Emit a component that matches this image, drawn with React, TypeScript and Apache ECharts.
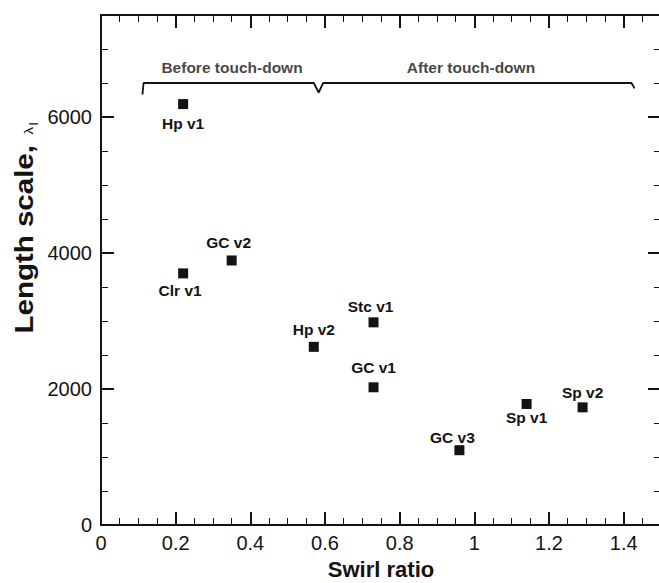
import React, { useEffect, useRef } from "react";
import * as echarts from "echarts";

// ---- data ----
const pointNames = ["Hp v1", "Clr v1", "GC v2", "Hp v2", "Stc v1", "GC v1", "GC v3", "Sp v1", "Sp v2"];
const swirlRatio = [0.22, 0.22, 0.35, 0.57, 0.73, 0.73, 0.96, 1.14, 1.29];
const lengthScale = [6190, 3700, 3890, 2620, 2980, 2025, 1100, 1780, 1730];

// label placement (dx, dy in px relative to marker)
const labelOffsets: [number, number][] = [
  [0, 19], [-3, 17], [-3, -18], [0, -17], [-3, -16], [0, -19.5], [-7, -12.5], [0, 14], [0, -14.5],
];

// brace annotation (data coordinates)
const braceX = [0.111, 0.114, 0.57, 0.583, 0.595, 1.421, 1.429];
const braceY = [6330, 6500, 6500, 6360, 6500, 6500, 6420];

const regionNames = ["Before touch-down", "After touch-down"];
const regionX = [0.351, 0.991];
const regionY = [6735, 6735];

const xTicks = { min: 0, max: 1.5, major: 0.2, minor: 0.05 };
const yTicks = { min: 0, max: 7500, major: 2000, minor: 500 };

const INK = "#151213";
const FONT = "'Liberation Sans', Arial, Helvetica, sans-serif";

export default function App() {
  const ref = useRef<HTMLDivElement>(null);
  useEffect(() => {
    if (!ref.current) return;
    const chart = echarts.init(ref.current, undefined, { renderer: "svg" });

    const baseAxis = (pos: string, interval: number, major: boolean, labels: boolean, dim: "x" | "y") => {
      const t = dim === "x" ? xTicks : yTicks;
      return {
        type: "value",
        position: pos,
        min: t.min,
        max: t.max,
        interval,
        axisLine: { show: major, onZero: false, lineStyle: { color: INK, width: 2 } },
        axisTick: {
          show: true,
          inside: true,
          length: major ? 13 : 7,
          lineStyle: { color: INK, width: major ? 2 : 1 },
        },
        axisLabel: {
          show: labels,
          showMaxLabel: false,
          margin: dim === "x" ? 8 : 9,
          color: INK,
          fontSize: 20,
          fontFamily: FONT,
          formatter: (v: number) => String(v),
        },
        splitLine: { show: false },
      } as any;
    };

    const xMain = baseAxis("bottom", xTicks.major, true, true, "x");
    xMain.name = "Swirl ratio";
    xMain.nameLocation = "middle";
    xMain.nameGap = 33;
    xMain.nameTextStyle = { fontSize: 22, fontWeight: "bold", color: INK, fontFamily: FONT, lineHeight: 22 };

    const labelStyle = {
      show: true,
      position: "inside",
      formatter: "{b}",
      fontSize: 15.5,
      fontWeight: "bold",
      fontFamily: FONT,
      color: INK,
    };

    const option: any = {
      animation: false,
      backgroundColor: "#ffffff",
      grid: { left: 101, top: 15, width: 560, height: 510, containLabel: false, outerBoundsMode: "none" },
      xAxis: [
        xMain,
        baseAxis("bottom", xTicks.minor, false, false, "x"),
        baseAxis("top", xTicks.major, true, false, "x"),
        baseAxis("top", xTicks.minor, false, false, "x"),
      ],
      yAxis: [
        baseAxis("left", yTicks.major, true, true, "y"),
        baseAxis("left", yTicks.minor, false, false, "y"),
        baseAxis("right", yTicks.major, true, false, "y"),
        baseAxis("right", yTicks.minor, false, false, "y"),
      ],
      graphic: [
        {
          type: "text",
          x: 23,
          y: 228,
          rotation: Math.PI / 2,
          scaleX: 1.18,
          style: {
            text: "{a|Length scale, }{b|λ}{c|l}",
            textAlign: "center",
            textVerticalAlign: "middle",
            fill: INK,
            rich: {
              a: { fontSize: 25, fontWeight: "bold", fontFamily: FONT, fill: INK, lineHeight: 28, verticalAlign: "bottom" },
              b: { fontSize: 13, fontFamily: FONT, fill: INK, lineHeight: 28, verticalAlign: "bottom", padding: [0, 1, 2, 2] },
              c: { fontSize: 12, fontFamily: FONT, fill: INK, lineHeight: 22, verticalAlign: "bottom", padding: [0, 0, -3, 0] },
            },
          },
        },
      ],
      series: [
        {
          type: "line",
          xAxisIndex: 0,
          yAxisIndex: 0,
          data: braceX.map((x, i) => [x, braceY[i]]),
          symbol: "none",
          silent: true,
          lineStyle: { color: INK, width: 1.8 },
          z: 1,
        },
        {
          type: "scatter",
          xAxisIndex: 0,
          yAxisIndex: 0,
          data: regionNames.map((n, i) => ({ name: n, value: [regionX[i], regionY[i]] })),
          symbolSize: 1,
          itemStyle: { color: "rgba(0,0,0,0)" },
          silent: true,
          label: labelStyle,
        },
        {
          type: "scatter",
          xAxisIndex: 0,
          yAxisIndex: 0,
          symbol: "rect",
          symbolSize: 10,
          itemStyle: { color: INK, opacity: 1 },
          data: pointNames.map((n, i) => ({
            name: n,
            value: [swirlRatio[i], lengthScale[i]],
            label: { offset: labelOffsets[i] },
          })),
          label: labelStyle,
          z: 3,
        },
      ],
    };
    chart.setOption(option);
    return () => chart.dispose();
  }, []);
  return (
    <div
      ref={ref}
      style={{ position: "fixed", left: 0, top: 0, width: 659, height: 583, background: "#fff" }}
    />
  );
}
